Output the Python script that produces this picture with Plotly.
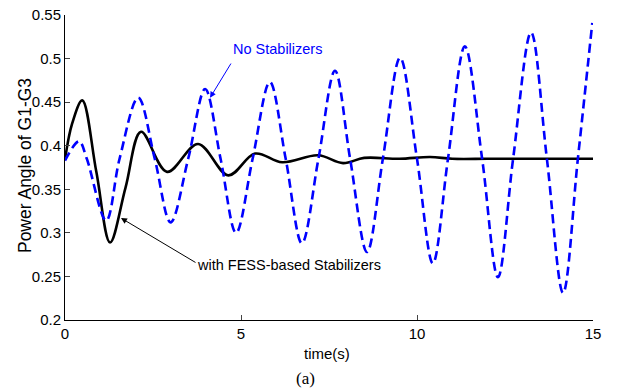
import plotly.graph_objects as go

# Blue dashed: No Stabilizers (time, value)
t_no = [0, 0.4, 0.62, 1.17, 1.55, 2.08, 2.55, 3.0, 3.5, 3.98, 4.42, 4.86, 5.33, 5.82,
        6.27, 6.73, 7.2, 7.67, 8.1, 8.58, 9.03, 9.52, 10.0, 10.45, 10.88, 11.36,
        11.85, 12.3, 12.73, 13.24, 13.69, 14.15, 14.57, 14.98]
v_no = [0.383, 0.405, 0.385, 0.314, 0.385, 0.455, 0.385, 0.312, 0.385, 0.465, 0.385,
        0.300, 0.385, 0.473, 0.385, 0.288, 0.385, 0.486, 0.385, 0.278, 0.385, 0.501,
        0.385, 0.265, 0.385, 0.514, 0.385, 0.249, 0.385, 0.530, 0.385, 0.231, 0.385,
        0.541]

# Black solid: with FESS-based Stabilizers
t_fess = [0, 0.2, 0.49, 0.89, 1.28, 1.72, 2.16, 2.9, 3.78, 4.64, 5.4, 6.17, 7.19,
          7.9, 8.5, 9.5, 10.37, 11.0, 12.0, 13.0, 14.0, 15.0]
v_fess = [0.384, 0.425, 0.452, 0.370, 0.289, 0.352, 0.416, 0.370, 0.402, 0.366,
          0.391, 0.381, 0.389, 0.380, 0.386, 0.385, 0.387, 0.385, 0.385, 0.385,
          0.385, 0.385]

x_ticks = [0, 5, 10, 15]
y_ticks = [0.2, 0.25, 0.3, 0.35, 0.4, 0.45, 0.5, 0.55]
y_tick_text = ["0.2", "0.25", "0.3", "0.35", "0.4", "0.45", "0.5", "0.55"]

SANS = "Liberation Sans, Arial, sans-serif"

fig = go.Figure()
fig.add_trace(go.Scatter(x=t_fess, y=v_fess, mode="lines", line_shape="spline",
                         line=dict(color="black", width=2.6), showlegend=False))
fig.add_trace(go.Scatter(x=t_no, y=v_no, mode="lines", line_shape="spline",
                         line=dict(color="#0000ff", width=2.6, dash="9px,5px"),
                         showlegend=False))

# text labels
fig.add_annotation(x=6.04, y=0.511, text="No Stabilizers", showarrow=False,
                   xanchor="center", yanchor="middle",
                   font=dict(family=SANS, size=14.5, color="#0000ff"))
fig.add_annotation(x=4.12, y=0.455, ax=4.74, ay=0.496, axref="x", ayref="y",
                   text="", showarrow=True, arrowhead=2, arrowsize=1.2, arrowwidth=1,
                   arrowcolor="#0000ff")
fig.add_annotation(x=6.36, y=0.263, text="with FESS-based Stabilizers", showarrow=False,
                   xanchor="center", yanchor="middle",
                   font=dict(family=SANS, size=14.5, color="black"))
fig.add_annotation(x=1.59, y=0.317, ax=3.75, ay=0.265, axref="x", ayref="y",
                   text="", showarrow=True, arrowhead=2, arrowsize=1.2, arrowwidth=1,
                   arrowcolor="black")
# axis titles and caption
fig.add_annotation(x=0.496, y=-0.111, xref="paper", yref="paper", text="time(s)",
                   xanchor="center", yanchor="middle",
                   showarrow=False, font=dict(family=SANS, size=15, color="black"))
fig.add_annotation(x=-0.0758, y=0.508, xref="paper", yref="paper",
                   text="Power Angle of G1-G3", textangle=-90, showarrow=False,
                   xanchor="center", yanchor="middle",
                   font=dict(family=SANS, size=17.5, color="black"))
fig.add_annotation(x=0.456, y=-0.193, xref="paper", yref="paper", text="(a)",
                   xanchor="center", yanchor="middle",
                   showarrow=False,
                   font=dict(family="Liberation Serif, Times New Roman, serif", size=17,
                             color="black"))

fig.update_layout(
    width=622, height=391,
    margin=dict(l=65, r=29, t=15, b=71),
    paper_bgcolor="white", plot_bgcolor="white",
    font=dict(family=SANS, size=15, color="black"),
)
fig.update_xaxes(range=[0, 15], tickvals=x_ticks, ticks="inside", ticklen=5,
                 showline=True, linecolor="black", linewidth=1, showgrid=False,
                 zeroline=False, automargin=False, ticklabeloverflow="allow",
                 tickfont=dict(family=SANS, size=15))
fig.update_yaxes(range=[0.2, 0.55], tickvals=y_ticks, ticktext=y_tick_text,
                 ticks="inside", ticklen=5,
                 showline=True, linecolor="black", linewidth=1, showgrid=False,
                 zeroline=False, automargin=False, ticklabeloverflow="allow",
                 tickfont=dict(family=SANS, size=15))

# remove the default 8px page margin so the figure sits at the window origin
fig.write_html("out.html", config={"displayModeBar": False},
               post_script="document.body.style.margin='0px';")
